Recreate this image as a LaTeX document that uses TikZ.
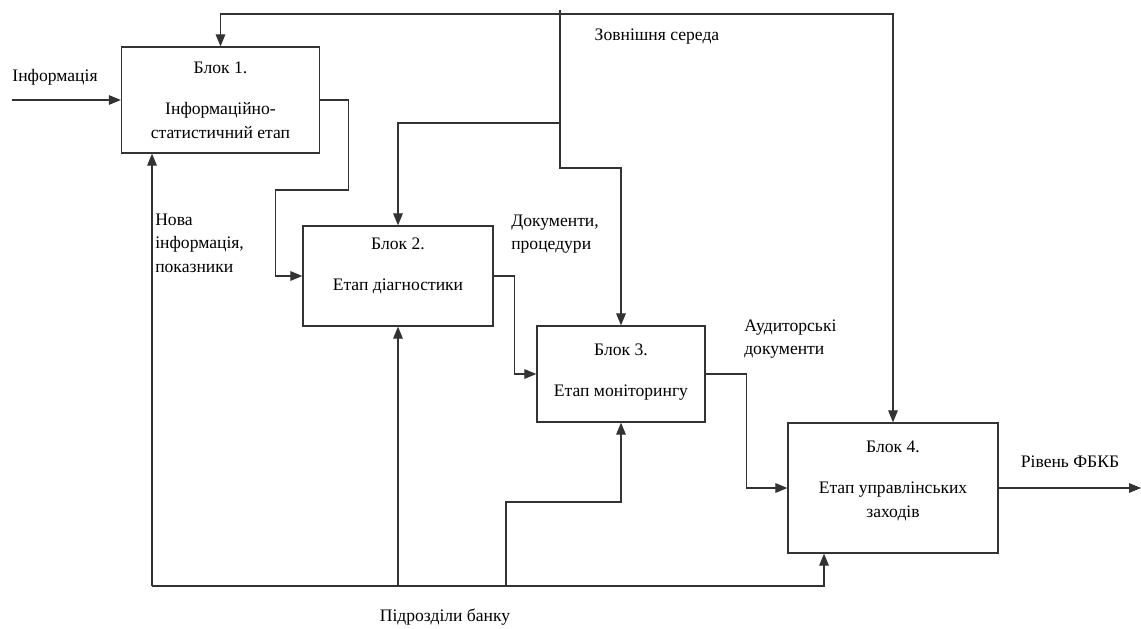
\documentclass[tikz,border=0pt]{standalone}
\usepackage{fontspec}
\setmainfont{Liberation Serif}
\usetikzlibrary{arrows.meta,positioning}

\begin{document}
\begin{tikzpicture}[x=0.025cm,y=-0.025cm,font=\fontsize{12.5}{16.8}\selectfont]

\tikzstyle{block}=[draw=black!80,line width=0.9pt,align=center,inner sep=2pt]
\tikzstyle{conn}=[draw=black!80,line width=0.9pt,-{Triangle[length=0.3cm,width=0.24cm]}]
\tikzstyle{lbl}=[align=left,inner sep=0pt]

\useasboundingbox (0,0) rectangle (1141,629);

% blocks
\node [block,minimum width=4.95cm,minimum height=2.65cm] (B1) at (220.5,100) {Блок 1.\\[0.45cm]Інформаційно-\\статистичний етап};
\node [block,minimum width=4.75cm,minimum height=2.5cm,text depth=0.6cm] (B2) at (398,276) {Блок 2.\\[0.45cm]Етап діагностики};
\node [block,minimum width=4.2cm,minimum height=2.4cm,text depth=0.2cm] (B3) at (621,374) {Блок 3.\\[0.45cm]Етап моніторингу};
\node [block,minimum width=5.25cm,minimum height=3.25cm,text depth=0.45cm] (B4) at (893,488) {Блок 4.\\[0.45cm]Етап управлінських\\заходів};

% labels
\node (inftxt) at (55,77) {Інформація};
\node (envtxt) at (657,37) {Зовнішня середа};
\node [lbl,anchor=west] (newinf) at (155,243) {Нова\\інформація,\\показники};
\node [lbl,anchor=west] (docs) at (511,234) {Документи,\\процедури};
\node [lbl,anchor=west] (audit) at (744,339) {Аудиторські\\документи};
\node (lvl) at (1070,462) {Рівень ФБКБ};
\node (banktxt) at (445,617) {Підрозділи банку};

\coordinate (inf) at (12,100);
\coordinate (env) at (560,10);
\coordinate (top) at (560,14);
\coordinate (k1) at (560,123);
\coordinate (k2) at (560,168);
\coordinate (out) at (1141,488);
\coordinate (bl) at (152,586);
\coordinate (br) at (824,586);
\coordinate (k3) at (506,586);

% outer flows
\draw [conn] (inf) -- (B1.west);
\draw [conn] (top) -| (B1.north);
\draw [conn] (top) -| (B4.north);
\draw [conn] (env) -- (k1) -| (B2.north);
\draw [conn] (k1) -- (k2) -| (B3.north);
\draw [conn] (B4.east) -- (out);

% between blocks
\draw [conn] (B1.east) -- ++(28,0) -- ++(0,90) -- ++(-73,0) |- (B2.west);
\draw [conn] (B2.east) -- ++(21,0) |- (B3.west);
\draw [conn] (B3.east) -- ++(41,0) |- (B4.west);

% bank
\draw [conn] (bl) -- (bl |- B1.south);
\draw [conn] (bl) -- (br) -- (br |- B4.south);
\draw [conn] (B2.south |- bl) -- (B2.south);
\draw [conn] (k3) -- ++(0,-84) -| (B3.south);

\end{tikzpicture}
\end{document}
